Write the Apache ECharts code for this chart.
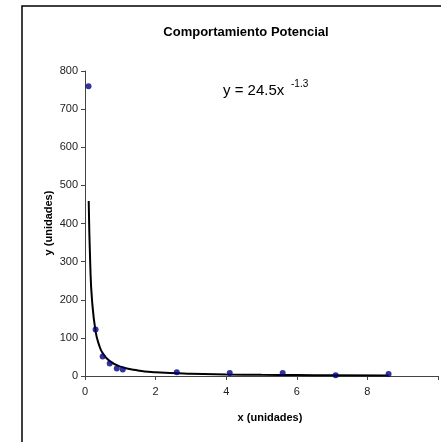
<!DOCTYPE html>
<html><head><meta charset="utf-8">
<script src="https://cdn.jsdelivr.net/npm/echarts@6/dist/echarts.min.js"></script>
<style>html,body{margin:0;padding:0;background:#fff}#c{width:441px;height:442px}</style>
</head><body><div id="c"></div>
<script>
// observed data points
var dataX = [0.1, 0.3, 0.5, 0.7, 0.9, 1.07, 2.6, 4.1, 5.6, 7.1, 8.6];
var dataY = [760, 122, 51, 33, 20, 17, 10, 8, 8, 2, 5];
// trend curve (y = 24.5x^-1.3)
var trendX = [0.105, 0.15, 0.2, 0.3, 0.4, 0.5, 0.7, 1, 1.5, 2, 3, 4, 5, 6, 7, 8.6];
var trendY = [459, 289, 198, 117, 81, 60, 39, 24.5, 14.5, 10, 5.9, 4.0, 3.0, 2.4, 1.9, 1.5];
var xTicks = [0, 2, 4, 6, 8];
var yTicks = [0, 100, 200, 300, 400, 500, 600, 700, 800];

var chart = echarts.init(document.getElementById('c'), null, {renderer: 'canvas'});
var font = 'Liberation Sans, Arial, sans-serif';
chart.setOption({
  animation: false,
  title: {text: 'Comportamiento Potencial', left: 241, top: 21, textAlign: 'center',
    textStyle: {fontFamily: font, fontSize: 13, fontWeight: 'bold', color: '#000'}},
  grid: {left: 85, top: 71, right: -14, bottom: 66},
  xAxis: {type: 'value', min: 0, max: 10, interval: 2,
    axisLine: {lineStyle: {color: '#444', width: 1}},
    axisTick: {show: true, inside: false, length: 4, lineStyle: {color: '#444'}},
    axisLabel: {fontFamily: font, fontSize: 11, color: '#222', margin: 10,
      formatter: function(v){ return xTicks.indexOf(v) >= 0 ? String(v) : ''; }},
    splitLine: {show: false}},
  yAxis: {type: 'value', min: 0, max: 800, interval: 100,
    axisLine: {show: true, lineStyle: {color: '#444', width: 1}},
    axisTick: {show: true, inside: false, length: 4, lineStyle: {color: '#444'}},
    axisLabel: {fontFamily: font, fontSize: 11, color: '#222', margin: 7,
      formatter: function(v){ return yTicks.indexOf(v) >= 0 ? String(v) : ''; }},
    splitLine: {show: false}},
  series: [
    {type: 'line', data: trendX.map(function(x,i){return [x, trendY[i]];}),
      smooth: true, showSymbol: false, lineStyle: {color: '#000', width: 2}, z: 2},
    {type: 'scatter', data: dataX.map(function(x,i){return [x, dataY[i]];}),
      symbol: 'circle', symbolSize: 6, itemStyle: {color: '#000080'}, z: 3}
  ],
  graphic: [
    {type: 'rect', shape: {x: 22, y: 6, width: 460, height: 460}, style: {fill: 'none', stroke: '#000', lineWidth: 1.5}, z: 10},
    {type: 'text', x: 270, y: 418, style: {text: 'x (unidades)', fontFamily: font, fontSize: 11, fontWeight: 'bold', fill: '#000', align: 'center', verticalAlign: 'middle'}, z: 10},
    {type: 'text', x: 49, y: 223, rotation: Math.PI / 2, style: {text: 'y (unidades)', fontFamily: font, fontSize: 11, fontWeight: 'bold', fill: '#000', align: 'center', verticalAlign: 'middle'}, z: 10},
    {type: 'text', x: 223, y: 91, style: {text: 'y = 24.5x', fontFamily: font, fontSize: 15, fill: '#000', align: 'left', verticalAlign: 'middle'}, z: 10},
    {type: 'text', x: 291, y: 84, style: {text: '-1.3', fontFamily: font, fontSize: 10, fill: '#000', align: 'left', verticalAlign: 'middle'}, z: 10}
  ]
});
</script></body></html>
